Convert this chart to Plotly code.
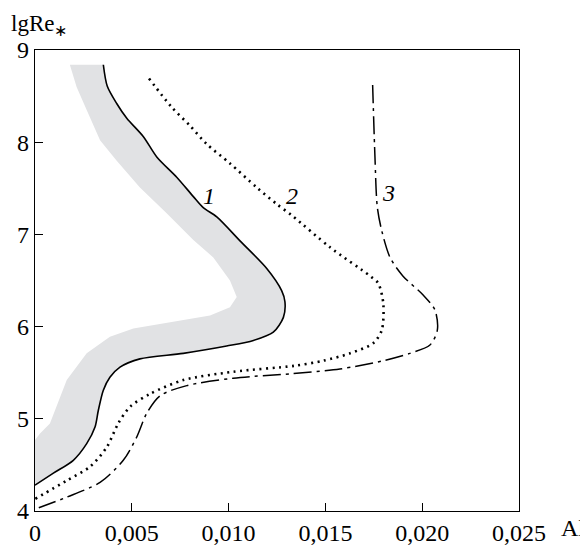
import plotly.graph_objects as go

# Curve 1 (solid)
c1_x = [0.00353, 0.00373, 0.00422, 0.00474, 0.00560, 0.00629, 0.00732, 0.00818, 0.00869, 0.00939,
        0.01059, 0.01197, 0.01274, 0.01291, 0.01283, 0.01231, 0.01128, 0.00990, 0.00766, 0.00542,
        0.00439, 0.00387, 0.00353, 0.00327, 0.00310, 0.00267, 0.00198, 0.00095, 0.0]
c1_y = [8.84, 8.61, 8.42, 8.26, 8.06, 7.84, 7.62, 7.41, 7.29, 7.19,
        6.93, 6.63, 6.39, 6.27, 6.10, 5.94, 5.85, 5.79, 5.71, 5.65,
        5.56, 5.45, 5.31, 5.09, 4.91, 4.73, 4.55, 4.41, 4.28]

# Curve 2 (dotted)
c2_x = [0.00589, 0.00706, 0.00800, 0.00887, 0.01007, 0.01145, 0.01248, 0.01330, 0.01524, 0.01730,
        0.01773, 0.01799, 0.01791, 0.01747, 0.01627, 0.01489, 0.01340, 0.01024, 0.00766, 0.00594,
        0.00491, 0.00430, 0.00370, 0.00284, 0.00164, 0.0]
c2_y = [8.69, 8.38, 8.18, 7.98, 7.77, 7.51, 7.33, 7.20, 6.86, 6.55,
        6.47, 6.25, 5.96, 5.82, 5.71, 5.63, 5.575, 5.51, 5.42, 5.27,
        5.13, 4.95, 4.69, 4.48, 4.33, 4.13]

# Curve 3 (dash-dot)
c3_x = [0.01744, 0.01756, 0.01768, 0.01791, 0.01834, 0.01900, 0.02006, 0.02066, 0.02078, 0.02040,
        0.01937, 0.01799, 0.01575, 0.01330, 0.01024, 0.00784, 0.00646, 0.00577, 0.00525, 0.00456,
        0.00336, 0.00164, 0.0]
c3_y = [8.62, 7.84, 7.30, 7.04, 6.75, 6.55, 6.34, 6.18, 5.96, 5.80,
        5.71, 5.63, 5.54, 5.49, 5.44, 5.36, 5.25, 5.06, 4.80, 4.55,
        4.31, 4.15, 4.02]

# Grey band: left boundary (right boundary is curve 1)
band_x = [0.00180, 0.00215, 0.00267, 0.00336, 0.00422, 0.00542, 0.00680, 0.00818, 0.00921, 0.01007,
          0.01042, 0.01007, 0.00904, 0.00714, 0.00508, 0.00387, 0.00267, 0.00164, 0.00112, 0.00077,
          0.00026, 0.0, 0.0]
band_y = [8.84, 8.60, 8.35, 8.02, 7.80, 7.51, 7.23, 6.94, 6.75, 6.50,
          6.32, 6.21, 6.12, 6.05, 5.98, 5.89, 5.71, 5.42, 5.13, 4.95,
          4.84, 4.77, 4.28]

x_tick_vals = [0, 0.005, 0.010, 0.015, 0.020, 0.025]
x_tick_text = ["0", "0,005", "0,010", "0,015", "0,020", "0,025"]
y_tick_vals = [4, 5, 6, 7, 8, 9]
y_tick_text = ["4", "5", "6", "7", "8", "9"]

labels_text = ["1", "2", "3"]
labels_x = [0.0090, 0.01326, 0.01828]
labels_y = [7.42, 7.42, 7.45]

FONT = "Liberation Serif"

fig = go.Figure()

poly_x = band_x + c1_x[::-1]
poly_y = band_y + c1_y[::-1]
fig.add_trace(go.Scatter(x=poly_x, y=poly_y, mode="lines", fill="toself",
                         fillcolor="#e1e2e4", line=dict(width=0, color="#e1e2e4"),
                         hoverinfo="skip", showlegend=False))

fig.add_trace(go.Scatter(x=c1_x, y=c1_y, mode="lines",
                         line=dict(color="black", width=1.6, shape="spline", smoothing=0.8),
                         showlegend=False))
fig.add_trace(go.Scatter(x=c2_x, y=c2_y, mode="lines",
                         line=dict(color="black", width=2.6, dash="2px,4.5px",
                                   shape="spline", smoothing=0.8),
                         showlegend=False))
fig.add_trace(go.Scatter(x=c3_x, y=c3_y, mode="lines",
                         line=dict(color="black", width=1.5, dash="18px,5px,3px,5px",
                                   shape="spline", smoothing=0.8),
                         showlegend=False))

for t, lx, ly in zip(labels_text, labels_x, labels_y):
    fig.add_annotation(x=lx, y=ly, text="<i>" + t + "</i>", showarrow=False,
                       font=dict(family=FONT, size=24, color="black"))

fig.add_annotation(xref="paper", yref="paper", x=-0.054, y=1.02, xanchor="left", yanchor="bottom",
                   text="lgRe<sub>∗</sub>", showarrow=False,
                   font=dict(family=FONT, size=23, color="black"))
fig.add_annotation(xref="paper", yref="paper", x=1.082, y=0, xanchor="left", yanchor="top",
                   yshift=-2, text="Al", showarrow=False,
                   font=dict(family=FONT, size=24, color="black"))

fig.update_xaxes(range=[0, 0.025], tickvals=x_tick_vals, ticktext=x_tick_text,
                 ticks="inside", ticklen=8, tickcolor="black", tickwidth=1,
                 showline=True, linecolor="black", linewidth=1.2, mirror=True,
                 showgrid=False, zeroline=False, automargin=False,
                 tickfont=dict(family=FONT, size=24, color="black"))
fig.update_yaxes(range=[4, 9], tickvals=y_tick_vals, ticktext=y_tick_text,
                 ticks="inside", ticklen=8, tickcolor="black", tickwidth=1,
                 showline=True, linecolor="black", linewidth=1.2, mirror=True,
                 showgrid=False, zeroline=False, automargin=False,
                 tickfont=dict(family=FONT, size=24, color="black"))

fig.update_layout(width=580, height=537, plot_bgcolor="white", paper_bgcolor="white",
                  font=dict(family=FONT, color="black"),
                  margin=dict(l=27, r=69, t=42, b=34), showlegend=False)

fig.write_html("out.html")
